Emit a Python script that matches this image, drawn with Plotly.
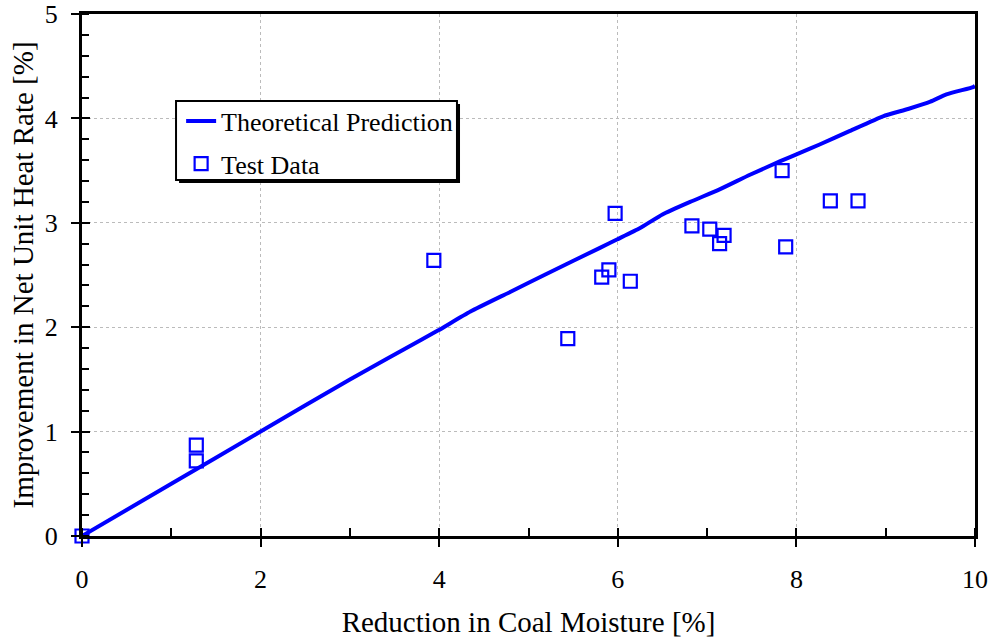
import plotly.graph_objects as go

# Theoretical prediction curve
theory_x = [0, 1.0, 2.0, 3.0, 3.4, 3.8, 3.99, 4.35, 4.8, 5.2, 5.8, 5.99, 6.25, 6.5, 6.81, 7.14, 7.48, 7.82, 8.04, 8.26, 8.6, 8.97, 9.25, 9.5, 9.68, 9.98, 10.0]
theory_y = [0, 0.50, 1.00, 1.50, 1.69, 1.88, 1.97, 2.15, 2.34, 2.51, 2.76, 2.84, 2.95, 3.08, 3.20, 3.32, 3.46, 3.59, 3.67, 3.75, 3.88, 4.02, 4.09, 4.16, 4.23, 4.30, 4.31]

# Test data
test_x = [0.0, 1.28, 1.28, 3.94, 5.44, 5.82, 5.90, 5.97, 6.14, 6.83, 7.03, 7.14, 7.19, 7.84, 7.88, 8.38, 8.69]
test_y = [0.0, 0.87, 0.72, 2.64, 1.89, 2.48, 2.55, 3.09, 2.44, 2.97, 2.94, 2.80, 2.88, 3.50, 2.77, 3.21, 3.21]

x_title = "Reduction in Coal Moisture [%]"
y_title = "Improvement in Net Unit Heat Rate [%]"
FONT = "Liberation Serif"
BLUE = "#0000ff"

fig = go.Figure()
fig.add_trace(go.Scatter(x=theory_x, y=theory_y, mode="lines", name="Theoretical Prediction",
                         legendgroup="a", line=dict(color=BLUE, width=4, shape="spline", smoothing=0.5)))
fig.add_trace(go.Scatter(x=test_x, y=test_y, mode="markers", name="Test Data", legendgroup="b",
                         marker=dict(symbol="square-open", size=13, color=BLUE, line=dict(width=2.2, color=BLUE)),
                         cliponaxis=False))
# invisible trace to force overlay axes (inside part of major ticks)
fig.add_trace(go.Scatter(x=[0], y=[0], xaxis="x2", yaxis="y2", mode="markers",
                         marker=dict(opacity=0), showlegend=False, hoverinfo="skip"))

axis_common = dict(showline=True, linecolor="black", linewidth=3, mirror=True,
                   gridcolor="#bbbbbb", griddash="dot", gridwidth=1,
                   tickfont=dict(family=FONT, size=26, color="black"),
                   ticks="outside", ticklen=8, tickwidth=2, tickcolor="black",
                   zeroline=False, automargin=False)

fig.update_layout(
    width=990, height=638,
    margin=dict(l=82, r=15, t=14, b=102),
    paper_bgcolor="white", plot_bgcolor="white",
    font=dict(family=FONT, color="black"),
    xaxis=dict(range=[0, 10], dtick=2, tick0=0,
               title=dict(text=x_title, font=dict(family=FONT, size=29), standoff=22),
               minor=dict(dtick=1, ticks="inside", ticklen=8, tickwidth=2, tickcolor="black", showgrid=False),
               ticklabelstandoff=10,
               **axis_common),
    yaxis=dict(range=[0, 5], dtick=1, tick0=0,
               title=dict(text=y_title, font=dict(family=FONT, size=29), standoff=3),
               minor=dict(dtick=0.2, ticks="inside", ticklen=7, tickwidth=2, tickcolor="black", showgrid=False),
               ticklabelstandoff=8,
               **axis_common),
    xaxis2=dict(range=[0, 10], dtick=2, overlaying="x", anchor="y2", showticklabels=False,
                ticks="inside", ticklen=8, tickwidth=2, tickcolor="black", showgrid=False,
                zeroline=False, showline=False, automargin=False),
    yaxis2=dict(range=[0, 5], dtick=1, overlaying="y", anchor="x2", showticklabels=False,
                ticks="inside", ticklen=8, tickwidth=2, tickcolor="black", showgrid=False,
                zeroline=False, showline=False, automargin=False),
    legend=dict(x=0.111, y=0.84, xanchor="left", yanchor="top",
                bgcolor="rgba(0,0,0,0)", borderwidth=0,
                font=dict(family=FONT, size=26, color="black"),
                tracegroupgap=6, itemwidth=30),
    showlegend=True,
    shapes=[
        dict(type="rect", xref="x", yref="y", x0=1.087, x1=4.233, y0=3.381, y1=4.138,
             fillcolor="black", line=dict(width=0), layer="above"),
        dict(type="rect", xref="x", yref="y", x0=1.053, x1=4.199, y0=3.41, y1=4.167,
             fillcolor="white", line=dict(color="black", width=2), layer="above"),
    ],
)

fig.write_html("out.html")
